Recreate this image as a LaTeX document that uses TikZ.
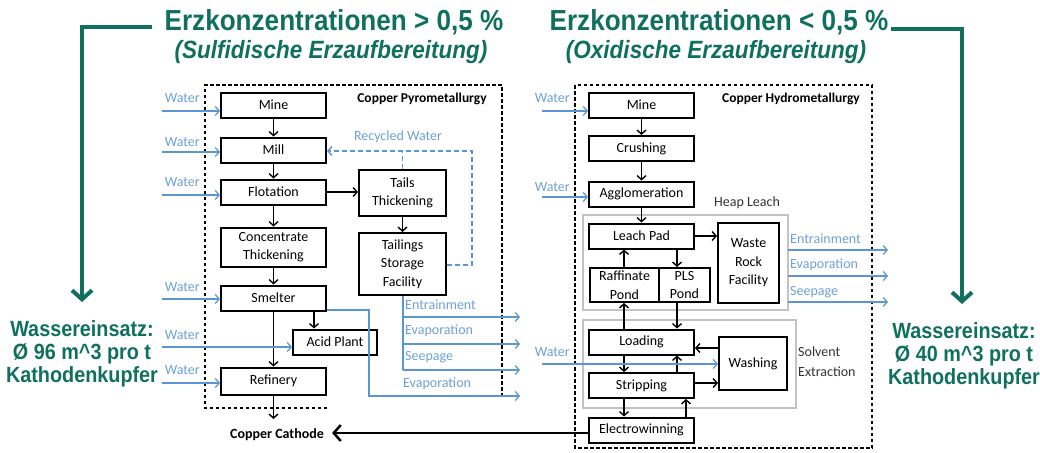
\documentclass[tikz,border=0pt]{standalone}
\usepackage{fontspec}
\setmainfont{Carlito}
\newfontfamily\gfont[FakeStretch=0.9]{Liberation Sans}
\usetikzlibrary{arrows.meta,calc}
\definecolor{teal1}{RGB}{16,112,96}
\definecolor{wblue}{RGB}{91,150,210}
\definecolor{lblue}{RGB}{110,160,215}
\definecolor{fgray}{RGB}{195,195,195}
\begin{document}
\begin{tikzpicture}[x=1pt,y=-1pt,
  box/.style={draw,line width=2pt,inner sep=0pt,align=center,font=\fontsize{14}{18.5}\selectfont,minimum width=105,minimum height=25},
  conn/.style={line width=1.4pt,-{Straight Barb[length=4pt,width=9pt]}},
  bl/.style={wblue,line width=1.2pt},
  blarr/.style={bl,-{Straight Barb[length=4pt,width=9pt]}},
  wlab/.style={text=lblue,font=\fontsize{14}{16}\selectfont,inner sep=0pt},
  gline/.style={teal1,line width=4pt,-{Straight Barb[length=9pt,width=20pt]}},
  dframe/.style={line width=1.5pt,dash pattern=on 3.5pt off 2.5pt},
  gframe/.style={fgray,line width=1.2pt},
  gtitle/.style={text=teal1,font=\gfont\bfseries\fontsize{29}{32}\selectfont,inner sep=0pt},
  gsub/.style={text=teal1,font=\gfont\bfseries\itshape\fontsize{25}{28}\selectfont,inner sep=0pt},
  gwater/.style={text=teal1,font=\gfont\bfseries\fontsize{22}{22}\selectfont,align=center,inner sep=0pt},
  lab/.style={font=\fontsize{14}{17}\selectfont,inner sep=0pt}
]
\useasboundingbox (0,0) rectangle (1040,452);

% ---------- green titles ----------
\node[gtitle] (t1) at (334,22) {Erzkonzentrationen > 0,5 \%};
\node[gsub] (s1) at (331,52) {(Sulfidische Erzaufbereitung)};
\node[gtitle] (t2) at (719,22) {Erzkonzentrationen < 0,5 \%};
\node[gsub] (s2) at (716,52) {(Oxidische Erzaufbereitung)};
\node[gwater] (w1) at (82,354) {Wassereinsatz:\\[1pt]Ø 96 m\textasciicircum3 pro t\\[1pt]Kathodenkupfer};
\node[gwater] (w2) at (964,356) {Wassereinsatz:\\[1pt]Ø 40 m\textasciicircum3 pro t\\[1pt]Kathodenkupfer};
\coordinate (g1a) at (152,27);
\coordinate (g1b) at (82,27);
\coordinate (g1c) at (82,302);
\draw[gline] (g1a) -- (g1b) -- (g1c);
\coordinate (g2a) at (891,29);
\coordinate (g2b) at (962,29);
\coordinate (g2c) at (962,304);
\draw[gline] (g2a) -- (g2b) -- (g2c);

% ---------- frames ----------
\draw[dframe] (327,408) -- (205,408) -- (205,85) -- (502,85) -- (502,398);
\draw[dframe] (575,85) rectangle (872,448);
\draw[gframe] (583,215) rectangle (788,310);
\draw[gframe] (583,320) rectangle (796,408);
\node[lab,font=\bfseries\fontsize{13.5}{16}\selectfont] (lt) at (422,99) {Copper Pyrometallurgy};
\node[lab,font=\bfseries\fontsize{13.5}{16}\selectfont] (rt) at (791,99) {Copper Hydrometallurgy};
\node[lab,text=black!80] (hl) at (747,203) {Heap Leach};
\node[lab,align=left,anchor=west,text=black!80,font=\fontsize{14}{20}\selectfont] (sx) at (798,362) {Solvent\\Extraction};

% ---------- left boxes ----------
\node[box] (lmine) at (273.5,105) {Mine};
\node[box] (lmill) at (273.5,150) {Mill};
\node[box] (lflot) at (273.5,192) {Flotation};
\node[box,minimum height=39] (lconc) at (273.5,247) {Concentrate\\Thickening};
\node[box] (lsmelt) at (273.5,298) {Smelter};
\node[box,minimum width=84] (lacid) at (335,342) {Acid Plant};
\node[box,minimum height=27] (lref) at (273.5,381) {Refinery};
\node[box,minimum width=87,minimum height=46] (ltails) at (402.5,193) {Tails\\Thickening};
\node[box,minimum width=87,minimum height=62] (lstor) at (402.5,264) {Tailings\\Storage\\Facility};
\node[lab,font=\bfseries\fontsize{14}{17}\selectfont,inner xsep=8pt] (cath) at (277,435) {Copper Cathode};
\coordinate (lout) at (273.5,419);

\draw[conn] (lmine) -- (lmill);
\draw[conn] (lmill) -- (lflot);
\draw[conn] (lflot) -- (lconc);
\draw[conn] (lconc) -- (lsmelt);
\draw[conn] (lsmelt) -- (lref);
\draw[conn] (lsmelt.south -| 314,0) -- (lacid.north -| 314,0);
\draw[conn] (lflot.east) -- (ltails.west |- lflot.east);
\draw[conn] (ltails) -- (lstor);
\draw[conn] (lref) -- (lout);

% left water inputs
\foreach \n/\yl/\yw [count=\i] in {lmine/111/98, lmill/152/142, lflot/195/182, lsmelt/299/287, lacid/347/335, lref/383/370}{
  \coordinate (lw\i) at (162,\yl);
  \draw[blarr] (lw\i) -- (\n.west |- lw\i);
  \node[wlab,anchor=east] (lwl\i) at (200,\yw) {Water};
}

% recycled water
\coordinate (rc1) at (472,265);
\coordinate (rc2) at (472,151);
\draw[bl,line width=1.4pt,dash pattern=on 5pt off 3pt,-{Straight Barb[length=4pt,width=9pt]}]
  (lstor.east |- rc1) -- (rc1) -- (rc2) -- (lmill.east |- rc2);
\draw[bl,line width=1.4pt,dash pattern=on 5pt off 3pt] (ltails.north) -- (ltails.north |- rc2);
\node[wlab] (rcl) at (398,137) {Recycled Water};

% left outflows
\coordinate (lo0) at (403,370);
\draw[bl] (lstor.south -| lo0) -- (lo0);
\coordinate (lo1) at (520,317);
\coordinate (lo2) at (520,344);
\coordinate (lo3) at (520,370);
\draw[blarr] (lo0 |- lo1) -- (lo1);
\draw[blarr] (lo0 |- lo2) -- (lo2);
\draw[blarr] (lo0) -- (lo3);
\node[wlab,anchor=west] (lol1) at (405,305) {Entrainment};
\node[wlab,anchor=west] (lol2) at (405,331) {Evaporation};
\node[wlab,anchor=west] (lol3) at (405,357) {Seepage};
\coordinate (ls1) at (369,310);
\coordinate (ls2) at (369,396);
\coordinate (ls3) at (520,396);
\draw[blarr] (lsmelt.east |- ls1) -- (ls1) -- (ls2) -- (ls3);
\node[wlab,anchor=west] (lol4) at (403,384) {Evaporation};

% ---------- right boxes ----------
\node[box] (rmine) at (641.5,105) {Mine};
\node[box] (rcrush) at (641.5,148.5) {Crushing};
\node[box] (ragg) at (641.5,194) {Agglomeration};
\node[box] (rleach) at (641.5,236) {Leach Pad};
\node[box,minimum width=69,minimum height=34] (rraff) at (624.5,285) {Raffinate\\Pond};
\node[box,minimum width=51,minimum height=34] (rpls) at (684.5,285) {PLS\\Pond};
\node[box,minimum width=61,minimum height=80] (rwaste) at (748.5,263) {Waste\\Rock\\Facility};
\node[box] (rload) at (641.5,342) {Loading};
\node[box] (rstrip) at (641.5,385.5) {Stripping};
\node[box,minimum width=68,minimum height=53] (rwash) at (753,363.5) {Washing};
\node[box] (relec) at (641.5,430) {Electrowinning};

\draw[conn] (rmine) -- (rcrush);
\draw[conn] (rcrush) -- (ragg);
\draw[conn] (ragg) -- (rleach);
\draw[conn] (rleach.east) -- (rwaste.west |- rleach.east);
\draw[conn] (rraff.north -| 624,0) -- (rleach.south -| 624,0);
\draw[conn] (rleach.south -| 677,0) -- (rpls.north -| 677,0);
\draw[conn] (rload.north -| 624,0) -- (rraff.south -| 624,0);
\draw[conn] (rpls.south -| 677,0) -- (rload.north -| 677,0);
\draw[conn] (rwash.west |- 0,348) -- (rload.east |- 0,348);
\draw[conn] (rstrip.east |- 0,383) -- (rwash.west |- 0,383);
\draw[conn] (rload.south -| 624,0) -- (rstrip.north -| 624,0);
\draw[conn] (rstrip.north -| 677,0) -- (rload.south -| 677,0);
\draw[conn] (rstrip.south -| 624,0) -- (relec.north -| 624,0);
\draw[conn] (relec.north -| 686,0) -- (rstrip.south -| 686,0);
\draw[line width=2.5pt,-{Straight Barb[length=7pt,width=16pt]}] (relec.west |- 0,433) -- (cath.east |- 0,433);

% right water inputs
\foreach \n/\yl/\yw [count=\i] in {rmine/111/98, ragg/197/187, rwash/364/352}{
  \coordinate (rw\i) at (542,\yl);
  \draw[blarr] (rw\i) -- (\n.west |- rw\i);
  \node[wlab,anchor=east] (rwl\i) at (570,\yw) {Water};
}

% right outflows
\coordinate (ro1) at (888,250);
\coordinate (ro2) at (888,276);
\coordinate (ro3) at (888,302);
\draw[blarr] (788,250) -- (ro1);
\draw[blarr] (788,276) -- (ro2);
\draw[blarr] (788,302) -- (ro3);
\node[wlab,anchor=west] (rol1) at (790,239) {Entrainment};
\node[wlab,anchor=west] (rol2) at (790,265) {Evaporation};
\node[wlab,anchor=west] (rol3) at (790,292) {Seepage};
\end{tikzpicture}
\end{document}
